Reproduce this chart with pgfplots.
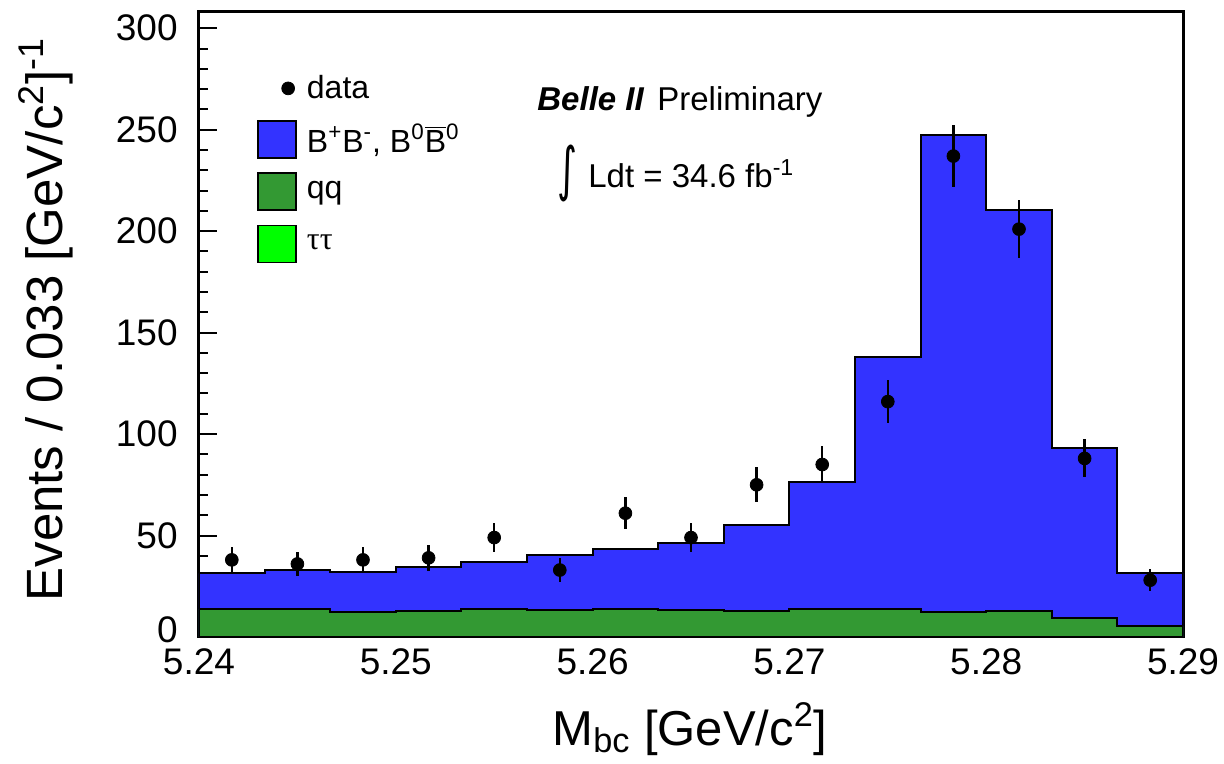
\documentclass[border=0pt]{standalone}
\usepackage{fontspec}
\setmainfont{Liberation Sans}
\newfontfamily\greekfont{Liberation Serif}
\newfontfamily\symfont{DejaVu Sans}
\usepackage{pgfplots}
\pgfplotsset{compat=1.18}
\definecolor{bbblue}{RGB}{51,51,255}
\definecolor{qqgreen}{RGB}{51,153,51}
\definecolor{tautau}{RGB}{0,255,0}
\begin{document}
\begin{tikzpicture}
\path[use as bounding box] (-99.5pt,-63.5pt) rectangle (512.5pt,318.5pt);
\begin{axis}[
  at={(0,0)}, anchor=south west,
  scale only axis, width=492pt, height=312.5pt,
  xmin=5.24, xmax=5.29, ymin=0, ymax=308,
  xtick={5.24,5.25,5.26,5.27,5.28,5.29},
  ytick={0,50,100,150,200,250,300},
  yticklabels={{},50,100,150,200,250,300},
  extra y ticks={0},
  extra y tick labels={0},
  extra y tick style={major tick length=0pt, yticklabel style={yshift=3.5pt}},
  minor x tick num=4, minor y tick num=4,
  tick pos=left, tick align=inside,
  major tick length=9pt, minor tick length=4.5pt,
  axis line style={line width=1.5pt},
  every tick/.style={black, line width=1pt},
  /pgf/number format/assume math mode=true,
  tick label style={font=\fontsize{18.5}{20}\selectfont, inner sep=0pt},
  xticklabel style={yshift=-5.5pt, /pgf/number format/fixed, /pgf/number format/fixed zerofill, /pgf/number format/precision=2},
  yticklabel style={xshift=-10.5pt},
  xlabel={M\textsubscript{bc} [GeV/c\textsuperscript{2}]},
  ylabel={Events / 0.033 [GeV/c\textsuperscript{2}]\textsuperscript{-1}},
  xlabel style={at={(rel axis cs:0.499,-0.1728)}, anchor=base, inner sep=0pt, font=\fontsize{24.5}{28}\selectfont},
  ylabel style={at={(rel axis cs:-0.1392,0.508)}, anchor=base, inner sep=0pt, font=\fontsize{25.5}{29}\selectfont},
  legend cell align=left,
  legend style={at={(0.0589,0.908)}, anchor=north west, draw=none, fill=none,
    inner sep=0pt, row sep=6.75pt, column sep=5pt,
    nodes={inner sep=0pt}, font=\fontsize{16}{19}\selectfont},
]
\addlegendimage{legend image code/.code={\path[draw=none, fill=none] (0pt,-9.25pt) rectangle (19pt,9.25pt); \fill[black] (15pt,0pt) circle (3.2pt);}}
\addlegendentry{data}
\addlegendimage{legend image code/.code={\draw[fill=bbblue, draw=black, line width=0.8pt] (0pt,-9.25pt) rectangle (19pt,9.25pt);}}
\addlegendentry{B\textsuperscript{+}B\textsuperscript{-}, B\textsuperscript{0}$\overline{\hbox{B}}$\textsuperscript{0}}
\addlegendimage{legend image code/.code={\draw[fill=qqgreen, draw=black, line width=0.8pt] (0pt,-9.25pt) rectangle (19pt,9.25pt);}}
\addlegendentry{qq}
\addlegendimage{legend image code/.code={\draw[fill=tautau, draw=black, line width=0.8pt] (0pt,-9.25pt) rectangle (19pt,9.25pt);}}
\addlegendentry{{\greekfont ττ}}

% total (B+B-, B0B0bar stacked on background)
\addplot[const plot, fill=bbblue, draw=black, line width=1pt, forget plot] coordinates {
(5.240000,31.3) (5.243333,33.0) (5.246667,31.8) (5.250000,34.6) (5.253333,37.1)
(5.256667,40.2) (5.260000,43.5) (5.263333,46.1) (5.266667,55.3) (5.270000,76.2)
(5.273333,138.2) (5.276667,247.6) (5.280000,210.6) (5.283333,92.9) (5.286667,31.5)
(5.290000,31.5)} \closedcycle;
% qq
\addplot[const plot, fill=qqgreen, draw=black, line width=1pt, forget plot] coordinates {
(5.240000,13.8) (5.243333,13.8) (5.246667,12.1) (5.250000,13.0) (5.253333,13.8)
(5.256667,13.3) (5.260000,13.6) (5.263333,13.1) (5.266667,13.0) (5.270000,13.8)
(5.273333,13.8) (5.276667,12.3) (5.280000,12.6) (5.283333,9.4) (5.286667,5.4)
(5.290000,5.4)} \closedcycle;
% data
\addplot[only marks, mark=*, mark size=3.2pt, black, forget plot,
  error bars/.cd, y dir=both, y explicit, error mark=none,
  error bar style={line width=1.2pt}] coordinates {
(5.241667,38) +- (0,6.16)
(5.245000,36) +- (0,6.00)
(5.248333,38) +- (0,6.16)
(5.251667,39) +- (0,6.24)
(5.255000,49) +- (0,7.00)
(5.258333,33) +- (0,5.74)
(5.261667,61) +- (0,7.81)
(5.265000,49) +- (0,7.00)
(5.268333,75) +- (0,8.66)
(5.271667,85) +- (0,9.22)
(5.275000,116) +- (0,10.77)
(5.278333,237) +- (0,15.39)
(5.281667,201) +- (0,14.18)
(5.285000,88) +- (0,9.38)
(5.288333,28) +- (0,5.29)};

\node[anchor=base west, inner sep=0pt, font=\fontsize{16.5}{19}\selectfont] at (rel axis cs:0.3435,0.8416) {\textbf{\textit{Belle II}}\hspace{6.5pt}Preliminary};
\node[inner sep=0pt] at (rel axis cs:0.374,0.7424) {\resizebox*{10pt}{28.5pt}{\symfont ∫}};
\node[anchor=base west, inner sep=0pt, font=\fontsize{16.5}{19}\selectfont] at (rel axis cs:0.3953,0.7184) {Ldt = 34.6 fb\textsuperscript{-1}};
\end{axis}
\end{tikzpicture}
\end{document}
